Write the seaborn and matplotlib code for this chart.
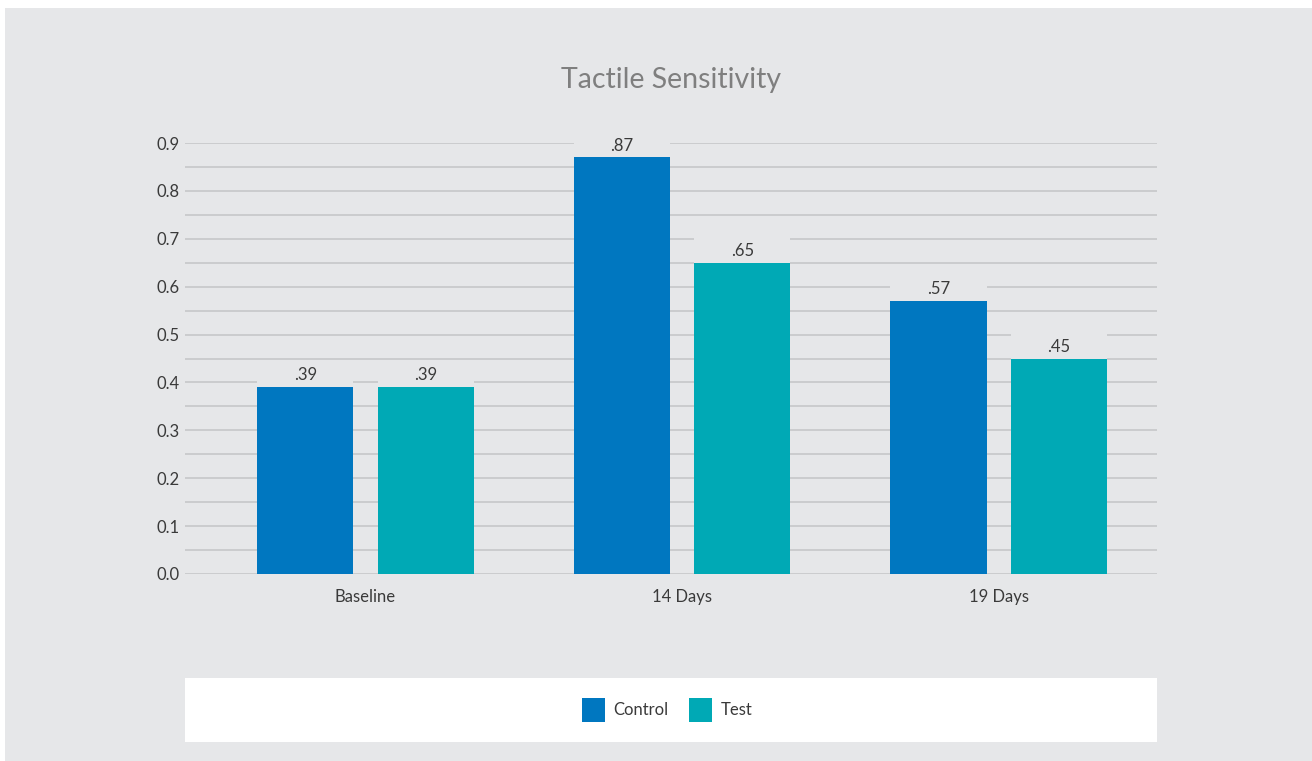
import matplotlib
matplotlib.use("Agg")
import matplotlib.pyplot as plt
from matplotlib.patches import Rectangle
import seaborn as sns
import pandas as pd

categories = ["Baseline", "14 Days", "19 Days"]
series_names = ["Control", "Test"]
control_values = [0.39, 0.87, 0.57]
test_values = [0.39, 0.65, 0.45]
value_labels_control = [".39", ".87", ".57"]
value_labels_test = [".39", ".65", ".45"]
colors = ["#0077c0", "#00a9b5"]
title = "Tactile Sensitivity"

BG = "#e6e7e9"
GRID = "#c4c4c6"
TEXT = "#3a3a3a"

df = pd.DataFrame({
    "Period": categories * 2,
    "Group": [series_names[0]] * 3 + [series_names[1]] * 3,
    "Value": control_values + test_values,
})
labels = value_labels_control + value_labels_test

sns.set_theme(style="white")
plt.rcParams["font.family"] = ["Lato", "DejaVu Sans"]

W, H = 1312, 761
fig = plt.figure(figsize=(W / 100, H / 100), dpi=100, facecolor="white")
# grey panel (white thin border on top/left)
fig.patches.append(Rectangle((5 / W, 0), 1 - 5 / W, 1 - 8 / H, transform=fig.transFigure,
                             facecolor=BG, edgecolor="none", zorder=-10))
# white legend strip
fig.patches.append(Rectangle((185 / W, (H - 742) / H), (1157 - 185) / W, 64 / H,
                             transform=fig.transFigure, facecolor="white", edgecolor="none", zorder=-9))

ax = fig.add_axes([185 / W, (H - 574) / H, (1157 - 185) / W, (574 - 143) / H])
ax.set_facecolor(BG)
ax.patch.set_alpha(0)

sns.barplot(data=df, x="Period", y="Value", hue="Group", order=categories,
            hue_order=series_names, palette=colors, width=0.76, gap=0.2,
            saturation=1, errorbar=None, ax=ax, legend=True, zorder=3,
            linewidth=0, edgecolor="none")

ax.set_xlim(-0.57, 2.50)
ax.set_ylim(0, 0.9)
ax.set_yticks([i / 10 for i in range(10)])
ax.set_yticks([0.05 + i / 10 for i in range(9)], minor=True)
ax.set_yticklabels([f"{i / 10:.1f}" for i in range(10)])
ax.grid(axis="y", which="both", color=GRID, linewidth=1.1, zorder=0)
ax.set_axisbelow(True)
for s in ax.spines.values():
    s.set_visible(False)
ax.tick_params(axis="y", which="both", length=0, pad=4, labelsize=12, labelcolor=TEXT)
ax.tick_params(axis="x", which="major", length=0, pad=11, labelsize=12, labelcolor=TEXT)
ax.set_xticks([0.5, 1.5], minor=True)
ax.tick_params(axis="x", which="minor", length=14, width=1.1, color=GRID, direction="out")
ax.set_xlabel("")
ax.set_ylabel("")

bars = [p for p in ax.patches if p.get_height() > 0][:6]
for p, lab in zip(bars, labels):
    x0, w, h = p.get_x(), p.get_width(), p.get_height()
    ax.add_patch(Rectangle((x0, h), w, 0.057, facecolor=BG, edgecolor="none",
                           linewidth=0, zorder=2))
    ax.text(x0 + w / 2, h + 0.008, lab, ha="center", va="bottom", fontsize=12,
            color=TEXT, zorder=4)

fig.text(671 / W, 1 - 80 / H, title, ha="center", va="center", fontsize=20.5,
         color="#7f7f7f")

handles, hl = ax.get_legend_handles_labels()
ax.get_legend().remove()
fig.legend(handles, hl, loc="center", bbox_to_anchor=(667 / W, 1 - 710 / H), ncol=2,
           frameon=False, fontsize=12, handlelength=1.4, handleheight=1.9,
           handletextpad=0.5, columnspacing=1.2, labelcolor=TEXT)

fig.savefig("out.png", dpi=100, facecolor="white")
